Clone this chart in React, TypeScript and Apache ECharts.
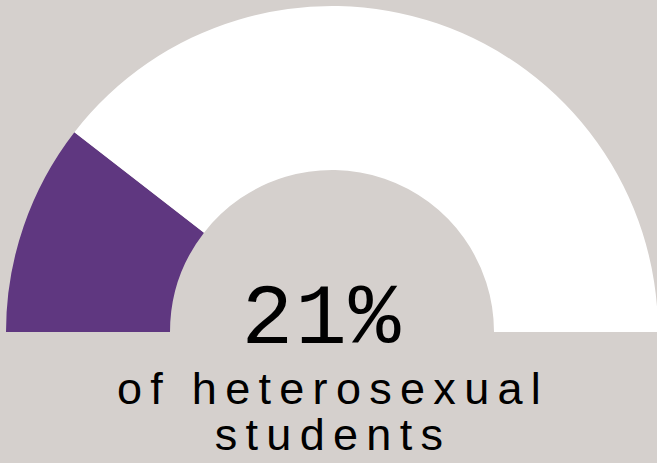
import React, { useEffect, useRef } from "react";
import * as echarts from "echarts";

const categories = ["Yes", "Rest"];
const values = [21, 79];
const headline = "21%";
const subtitleLines = ["of heterosexual", "students"];

const BG = "#d5d0cd";
const PURPLE = "#5f3780";

export default function App() {
  const ref = useRef<HTMLDivElement>(null);
  useEffect(() => {
    if (!ref.current) return;
    const chart = echarts.init(ref.current, null, { renderer: "svg" });
    const applySpacing = () => {
      const el = ref.current;
      if (!el) return;
      el.querySelectorAll("text").forEach((t) => {
        const s = t.textContent || "";
        if (subtitleLines.includes(s)) t.setAttribute("letter-spacing", "8.3");
        else if (s === headline) t.setAttribute("letter-spacing", "2");
      });
    };
    chart.on("finished", applySpacing);
    chart.setOption({
      animation: false,
      backgroundColor: BG,
      series: [
        {
          type: "pie",
          silent: true,
          center: [332, 332],
          radius: [162, 326],
          startAngle: 180,
          endAngle: 0,
          clockwise: true,
          label: { show: false },
          labelLine: { show: false },
          emphasis: { disabled: true },
          data: categories.map((c, i) => ({
            name: c,
            value: values[i],
            itemStyle: { color: i === 0 ? PURPLE : "#ffffff" },
          })),
        },
      ],
      graphic: [
        {
          type: "text",
          x: 322,
          y: 320,
          style: {
            text: headline,
            fill: "#000",
            font: '86px "Liberation Mono", monospace',
            align: "center",
            verticalAlign: "middle",
          },
        },
        ...subtitleLines.map((line, i) => ({
          type: "text",
          x: 333,
          y: 388 + i * 46,
          style: {
            text: line,
            fill: "#000",
            font: '45px "Liberation Sans", Arial, sans-serif',
            align: "center",
            verticalAlign: "middle",
          },
        })),
      ],
    });
    applySpacing();
    const id = requestAnimationFrame(applySpacing);
    return () => {
      cancelAnimationFrame(id);
      chart.dispose();
    };
  }, []);
  return (
    <div
      ref={ref}
      style={{ position: "fixed", left: 0, top: 0, width: 657, height: 463 }}
    />
  );
}
